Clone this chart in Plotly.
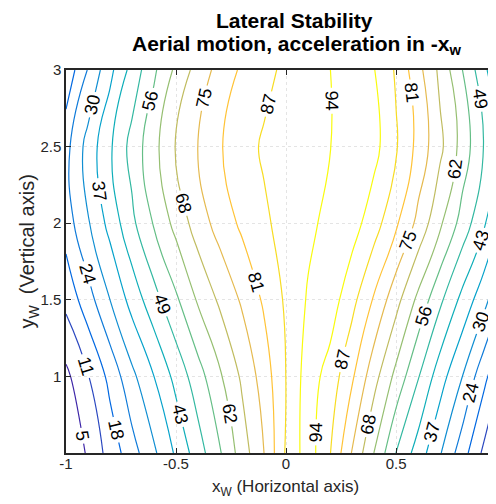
import plotly.graph_objects as go

# ---------------- data ----------------
x_grid = [-1.0, -0.9, -0.8, -0.7, -0.6, -0.5, -0.4, -0.3, -0.2, -0.1, 0.0,
          0.1, 0.2, 0.3, 0.4, 0.5, 0.6, 0.7, 0.8, 0.9, 1.0]
y_grid = [0.5, 1.0, 1.5, 2.0, 2.5, 3.0]

z_y050 = [-2.0, 5.85, 13.7, 21.3, 29.2, 37.6, 46.35, 55.1, 65.0, 74.7, 88.2,
          97.0, 87.7, 74.3, 61.9, 49.2, 40.15, 30.8, 20.6, 9.7, 0.0]
z_y100 = [3.3, 10.8, 19.4, 28.7, 36.6, 45.0, 53.0, 61.15, 69.45, 77.65, 87.5,
          96.8, 91.3, 82.0, 70.7, 60.2, 49.8, 39.4, 30.4, 19.35, 8.7]
z_y150 = [13.0, 21.2, 30.25, 39.0, 47.0, 54.6, 62.8, 69.55, 75.6, 82.0, 88.4,
          94.4, 97.0, 89.4, 80.3, 70.6, 60.5, 50.6, 41.2, 32.4, 21.5]
z_y200 = [20.6, 29.8, 38.7, 47.9, 56.25, 64.0, 71.5, 77.3, 82.3, 86.4, 89.55,
          92.35, 95.5, 96.5, 90.2, 82.1, 73.0, 63.15, 53.2, 43.8, 32.5]
z_y250 = [21.9, 32.7, 42.0, 51.6, 60.0, 68.7, 75.0, 80.5, 85.0, 88.2, 90.0,
          91.8, 93.6, 96.5, 95.8, 88.2, 79.1, 69.85, 59.7, 49.0, 38.0]
z_y300 = [13.0, 24.3, 34.9, 45.25, 54.6, 63.4, 71.0, 77.05, 82.1, 85.65, 88.7,
          91.2, 93.7, 96.5, 94.0, 86.6, 76.8, 66.9, 55.85, 44.75, 32.0]

level_start = 4.85
level_step = 6.35
level_end = 93.75

x_tick_vals = [-1, -0.5, 0, 0.5]
x_tick_text = ["-1", "-0.5", "0", "0.5"]
y_tick_vals = [1, 1.5, 2, 2.5, 3]
y_tick_text = ["1", "1.5", "2", "2.5", "3"]

title_line1 = "Lateral Stability"
title_line2 = "Aerial motion, acceleration in -x<sub>w</sub>"
x_title = "x<sub>W</sub> (Horizontal axis)"
y_title = "y<sub>W</sub>  (Vertical axis)"

# ---------------- styling ----------------
PARULA = [
    (0.2422, 0.1504, 0.6603), (0.2081, 0.2386, 0.6771), (0.1253, 0.3242, 0.8303),
    (0.0060, 0.4086, 0.8828), (0.0498, 0.4586, 0.8641), (0.0779, 0.5040, 0.8384),
    (0.0641, 0.5570, 0.8240), (0.0265, 0.6137, 0.8135), (0.0228, 0.6535, 0.7768),
    (0.0590, 0.6838, 0.7254), (0.1453, 0.7098, 0.6646), (0.2586, 0.7317, 0.5954),
    (0.3953, 0.7459, 0.5244), (0.5300, 0.7491, 0.4661), (0.6473, 0.7456, 0.4188),
    (0.7525, 0.7384, 0.3768), (0.8507, 0.7299, 0.3360), (0.9450, 0.7261, 0.2886),
    (0.9990, 0.7653, 0.2164), (0.9788, 0.8271, 0.1633), (0.9589, 0.8949, 0.1132),
    (0.9763, 0.9831, 0.0538),
]


def parula(t):
    t = min(max(t, 0.0), 1.0)
    n = len(PARULA) - 1
    f = t * n
    i = min(int(f), n - 1)
    w = f - i
    a, b = PARULA[i], PARULA[i + 1]
    c = [a[j] * (1 - w) + b[j] * w for j in range(3)]
    return "rgb(%d,%d,%d)" % tuple(int(round(v * 255)) for v in c)


n_levels = int(round((level_end - level_start) / level_step)) + 1
colorscale = [[k / (n_levels - 1), parula(k / (n_levels - 1))] for k in range(n_levels)]

FONT = "Liberation Sans, Arial, Helvetica, sans-serif"
AX = "#262626"

fig = go.Figure()
fig.add_trace(go.Contour(
    x=x_grid,
    y=y_grid,
    z=[z_y050, z_y100, z_y150, z_y200, z_y250, z_y300],
    autocontour=False,
    contours=dict(coloring="lines", start=level_start, end=level_end,
                  size=level_step, showlabels=True,
                  labelfont=dict(size=18, color="black", family=FONT),
                  labelformat=".0f"),
    line=dict(width=1.2, smoothing=1.3),
    colorscale=colorscale,
    showscale=False,
    hoverinfo="skip",
))

fig.update_layout(
    width=496, height=504,
    margin=dict(l=58, r=3, t=62, b=59),
    paper_bgcolor="white", plot_bgcolor="white",
    font=dict(family=FONT, color=AX, size=15),
    showlegend=False,
    xaxis=dict(range=[-1, 0.977], tickvals=x_tick_vals, ticktext=x_tick_text,
               ticks="inside", ticklen=5, tickcolor=AX, tickwidth=1,
               ticklabelstandoff=-4,
               showline=True, linecolor=AX, linewidth=1.5, mirror="ticks",
               showgrid=True, gridcolor="#e4e4e4", griddash="dot", gridwidth=1,
               zeroline=False, tickfont=dict(size=15, color=AX)),
    yaxis=dict(range=[0.5, 3], tickvals=y_tick_vals, ticktext=y_tick_text,
               ticks="inside", ticklen=5, tickcolor=AX, tickwidth=1,
               showline=True, linecolor=AX, linewidth=1.5, mirror=False,
               showgrid=True, gridcolor="#e4e4e4", griddash="dot", gridwidth=1,
               zeroline=False, tickfont=dict(size=15, color=AX)),
    annotations=[
        dict(text="<b>" + title_line1 + "</b>",
             xref="paper", yref="paper", x=0.525, y=1.0, yshift=50,
             xanchor="center", yanchor="middle", showarrow=False,
             font=dict(size=21, color="black", family=FONT)),
        dict(text="<b>" + title_line2 + "</b>",
             xref="paper", yref="paper", x=0.53, y=1.0, yshift=25,
             xanchor="center", yanchor="middle", showarrow=False,
             font=dict(size=21, color="black", family=FONT)),
        dict(text=x_title,
             xref="paper", yref="paper", x=0.505, y=0, yshift=-22,
             xanchor="center", yanchor="top", showarrow=False,
             font=dict(size=17, color=AX, family=FONT)),
        dict(text=y_title,
             xref="paper", yref="paper", x=0, xshift=-37, y=0.526,
             xanchor="center", yanchor="middle", textangle=-90, showarrow=False,
             font=dict(size=20, color=AX, family=FONT)),
    ],
)

fig.write_html("out.html")
